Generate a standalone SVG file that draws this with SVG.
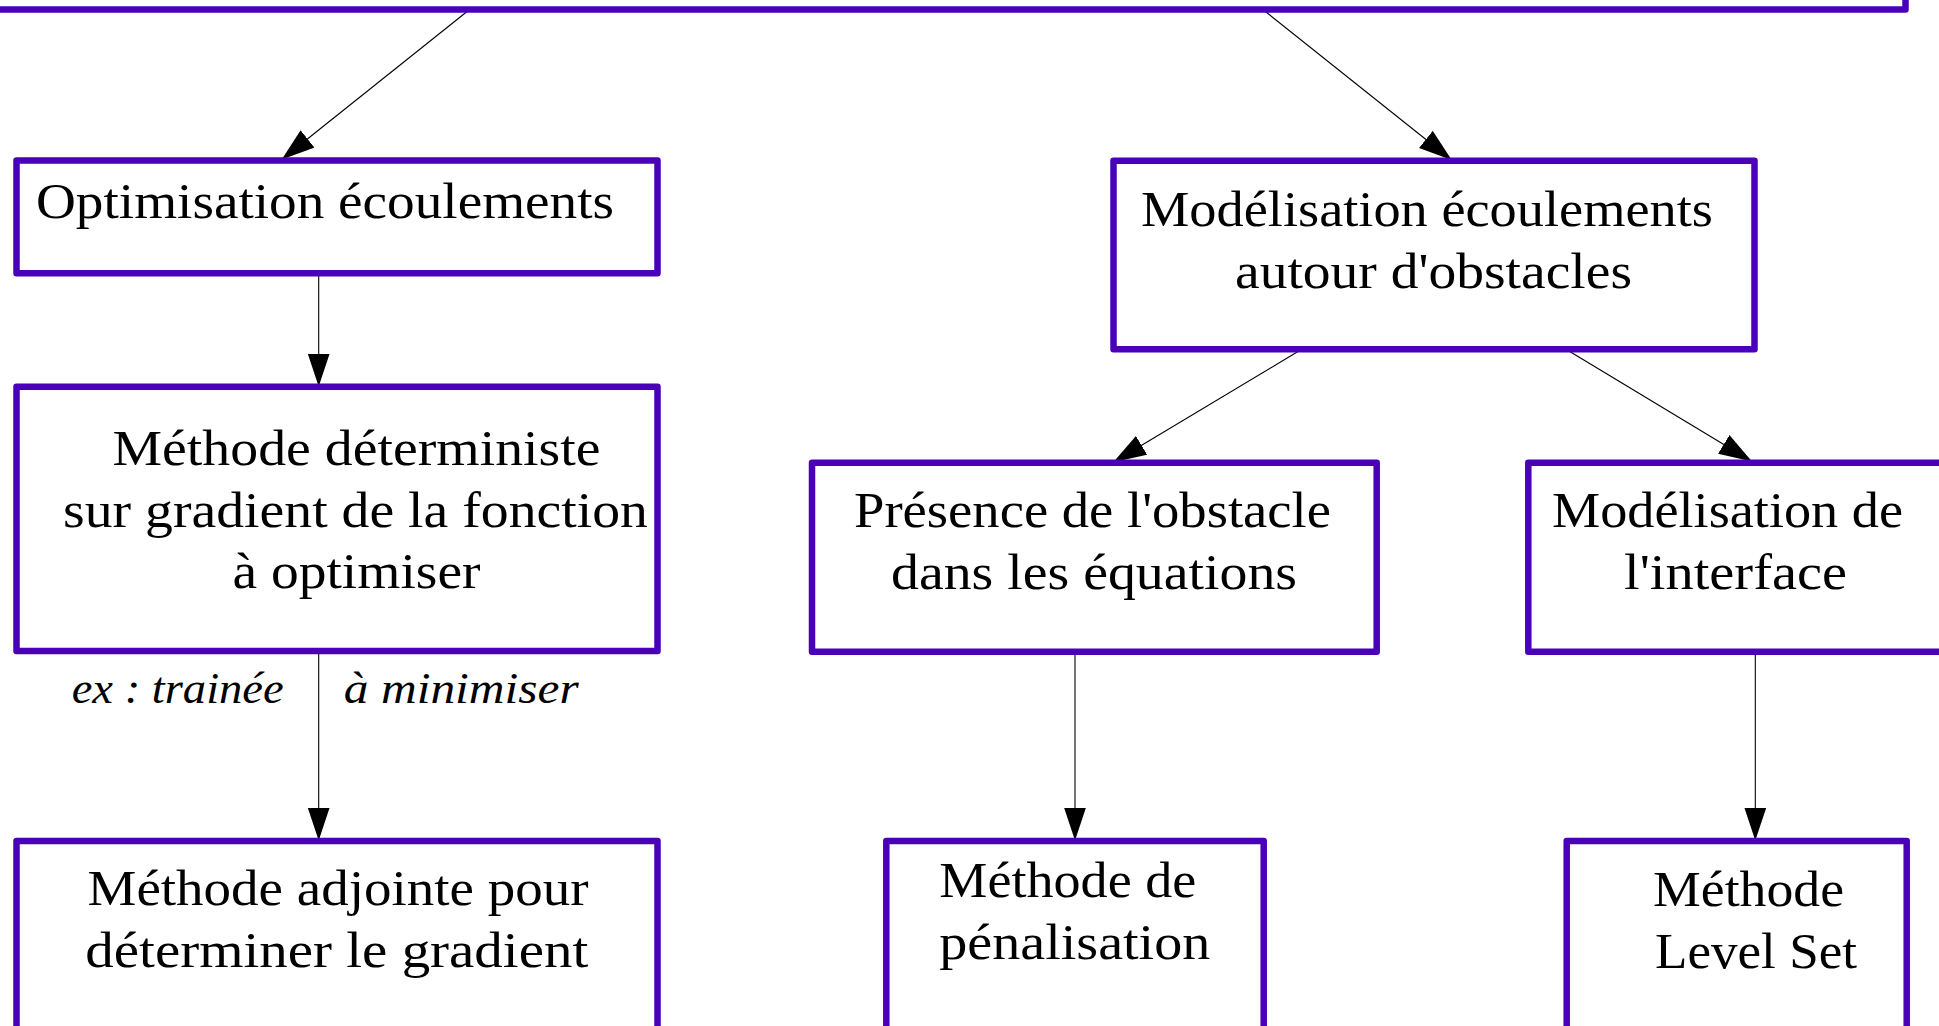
<svg xmlns="http://www.w3.org/2000/svg" width="1939" height="1026" viewBox="0 0 1939 1026">
<defs>
<style>
.box{fill:#ffffff;stroke:#4a00b8;stroke-width:6.5;stroke-linejoin:round}
.t{font-family:"Liberation Serif","Times New Roman",serif;font-size:50px;fill:#000000}
.i{font-family:"Liberation Serif","Times New Roman",serif;font-size:44px;font-style:italic;fill:#000000}
.c{stroke:#000000;stroke-width:1.1;fill:none;marker-end:url(#ah)}
</style>
<marker id="ah" markerUnits="userSpaceOnUse" markerWidth="34" markerHeight="23" refX="33" refY="11" orient="auto">
<path d="M0,0 L33,11 L0,22 Z" fill="#000000"/>
</marker>
</defs>
<rect width="1939" height="1026" fill="#ffffff"/>
<g id="connectors">
<line class="c" x1="469" y1="10" x2="281.7" y2="159.5"/>
<line class="c" x1="1263.5" y1="10" x2="1451.7" y2="160"/>
<line class="c" x1="318.7" y1="274" x2="318.7" y2="386.5"/>
<line class="c" x1="318.7" y1="652.7" x2="318.7" y2="840.5"/>
<line class="c" x1="1301.7" y1="349.3" x2="1113.3" y2="462.3"/>
<line class="c" x1="1566" y1="349.3" x2="1752" y2="461.5"/>
<line class="c" x1="1075" y1="651.7" x2="1075" y2="840.5"/>
<line class="c" x1="1755.3" y1="651.7" x2="1755.3" y2="840.5"/>
</g>
<g id="top">
<rect class="box" x="-20" y="-120" width="1925.5" height="129.5"/>
</g>
<g id="optimisation">
<rect class="box" x="16.5" y="160.5" width="641" height="112.8"/>
<text class="t" x="36" y="218" textLength="578" lengthAdjust="spacingAndGlyphs">Optimisation écoulements</text>
</g>
<g id="modelisation">
<rect class="box" x="1113.5" y="160.7" width="641" height="188.6"/>
<text class="t" x="1141" y="226" textLength="572" lengthAdjust="spacingAndGlyphs">Modélisation écoulements</text>
<text class="t" x="1235" y="288" textLength="397" lengthAdjust="spacingAndGlyphs">autour d'obstacles</text>
</g>
<g id="deterministe">
<rect class="box" x="16.5" y="386.7" width="641" height="264.3"/>
<text class="t" x="112.5" y="465" textLength="488" lengthAdjust="spacingAndGlyphs">Méthode déterministe</text>
<text class="t" x="63" y="527" textLength="585" lengthAdjust="spacingAndGlyphs">sur gradient de la fonction</text>
<text class="t" x="232.5" y="588" textLength="248" lengthAdjust="spacingAndGlyphs">à optimiser</text>
</g>
<g id="labels">
<text class="i" x="71.7" y="703" textLength="212" lengthAdjust="spacingAndGlyphs">ex : trainée</text>
<text class="i" x="343.8" y="703" textLength="235" lengthAdjust="spacingAndGlyphs">à minimiser</text>
</g>
<g id="presence">
<rect class="box" x="812" y="462.7" width="564.7" height="189"/>
<text class="t" x="854" y="527" textLength="477" lengthAdjust="spacingAndGlyphs">Présence de l'obstacle</text>
<text class="t" x="891" y="589" textLength="406" lengthAdjust="spacingAndGlyphs">dans les équations</text>
</g>
<g id="interface">
<rect class="box" x="1528.3" y="462.7" width="450" height="189"/>
<text class="t" x="1552" y="527" textLength="351" lengthAdjust="spacingAndGlyphs">Modélisation de</text>
<text class="t" x="1624" y="589" textLength="223" lengthAdjust="spacingAndGlyphs">l'interface</text>
</g>
<g id="adjointe">
<rect class="box" x="16.5" y="841" width="641" height="260"/>
<text class="t" x="87.5" y="905" textLength="501" lengthAdjust="spacingAndGlyphs">Méthode adjointe pour</text>
<text class="t" x="85.3" y="967" textLength="503" lengthAdjust="spacingAndGlyphs">déterminer le gradient</text>
</g>
<g id="penalisation">
<rect class="box" x="886.3" y="841" width="377.4" height="260"/>
<text class="t" x="939.3" y="897" textLength="257" lengthAdjust="spacingAndGlyphs">Méthode de</text>
<text class="t" x="939.3" y="959" textLength="271" lengthAdjust="spacingAndGlyphs">pénalisation</text>
</g>
<g id="levelset">
<rect class="box" x="1566.7" y="841" width="340" height="260"/>
<text class="t" x="1653" y="906" textLength="191" lengthAdjust="spacingAndGlyphs">Méthode</text>
<text class="t" x="1655" y="968" textLength="202" lengthAdjust="spacingAndGlyphs">Level Set</text>
</g>
</svg>
